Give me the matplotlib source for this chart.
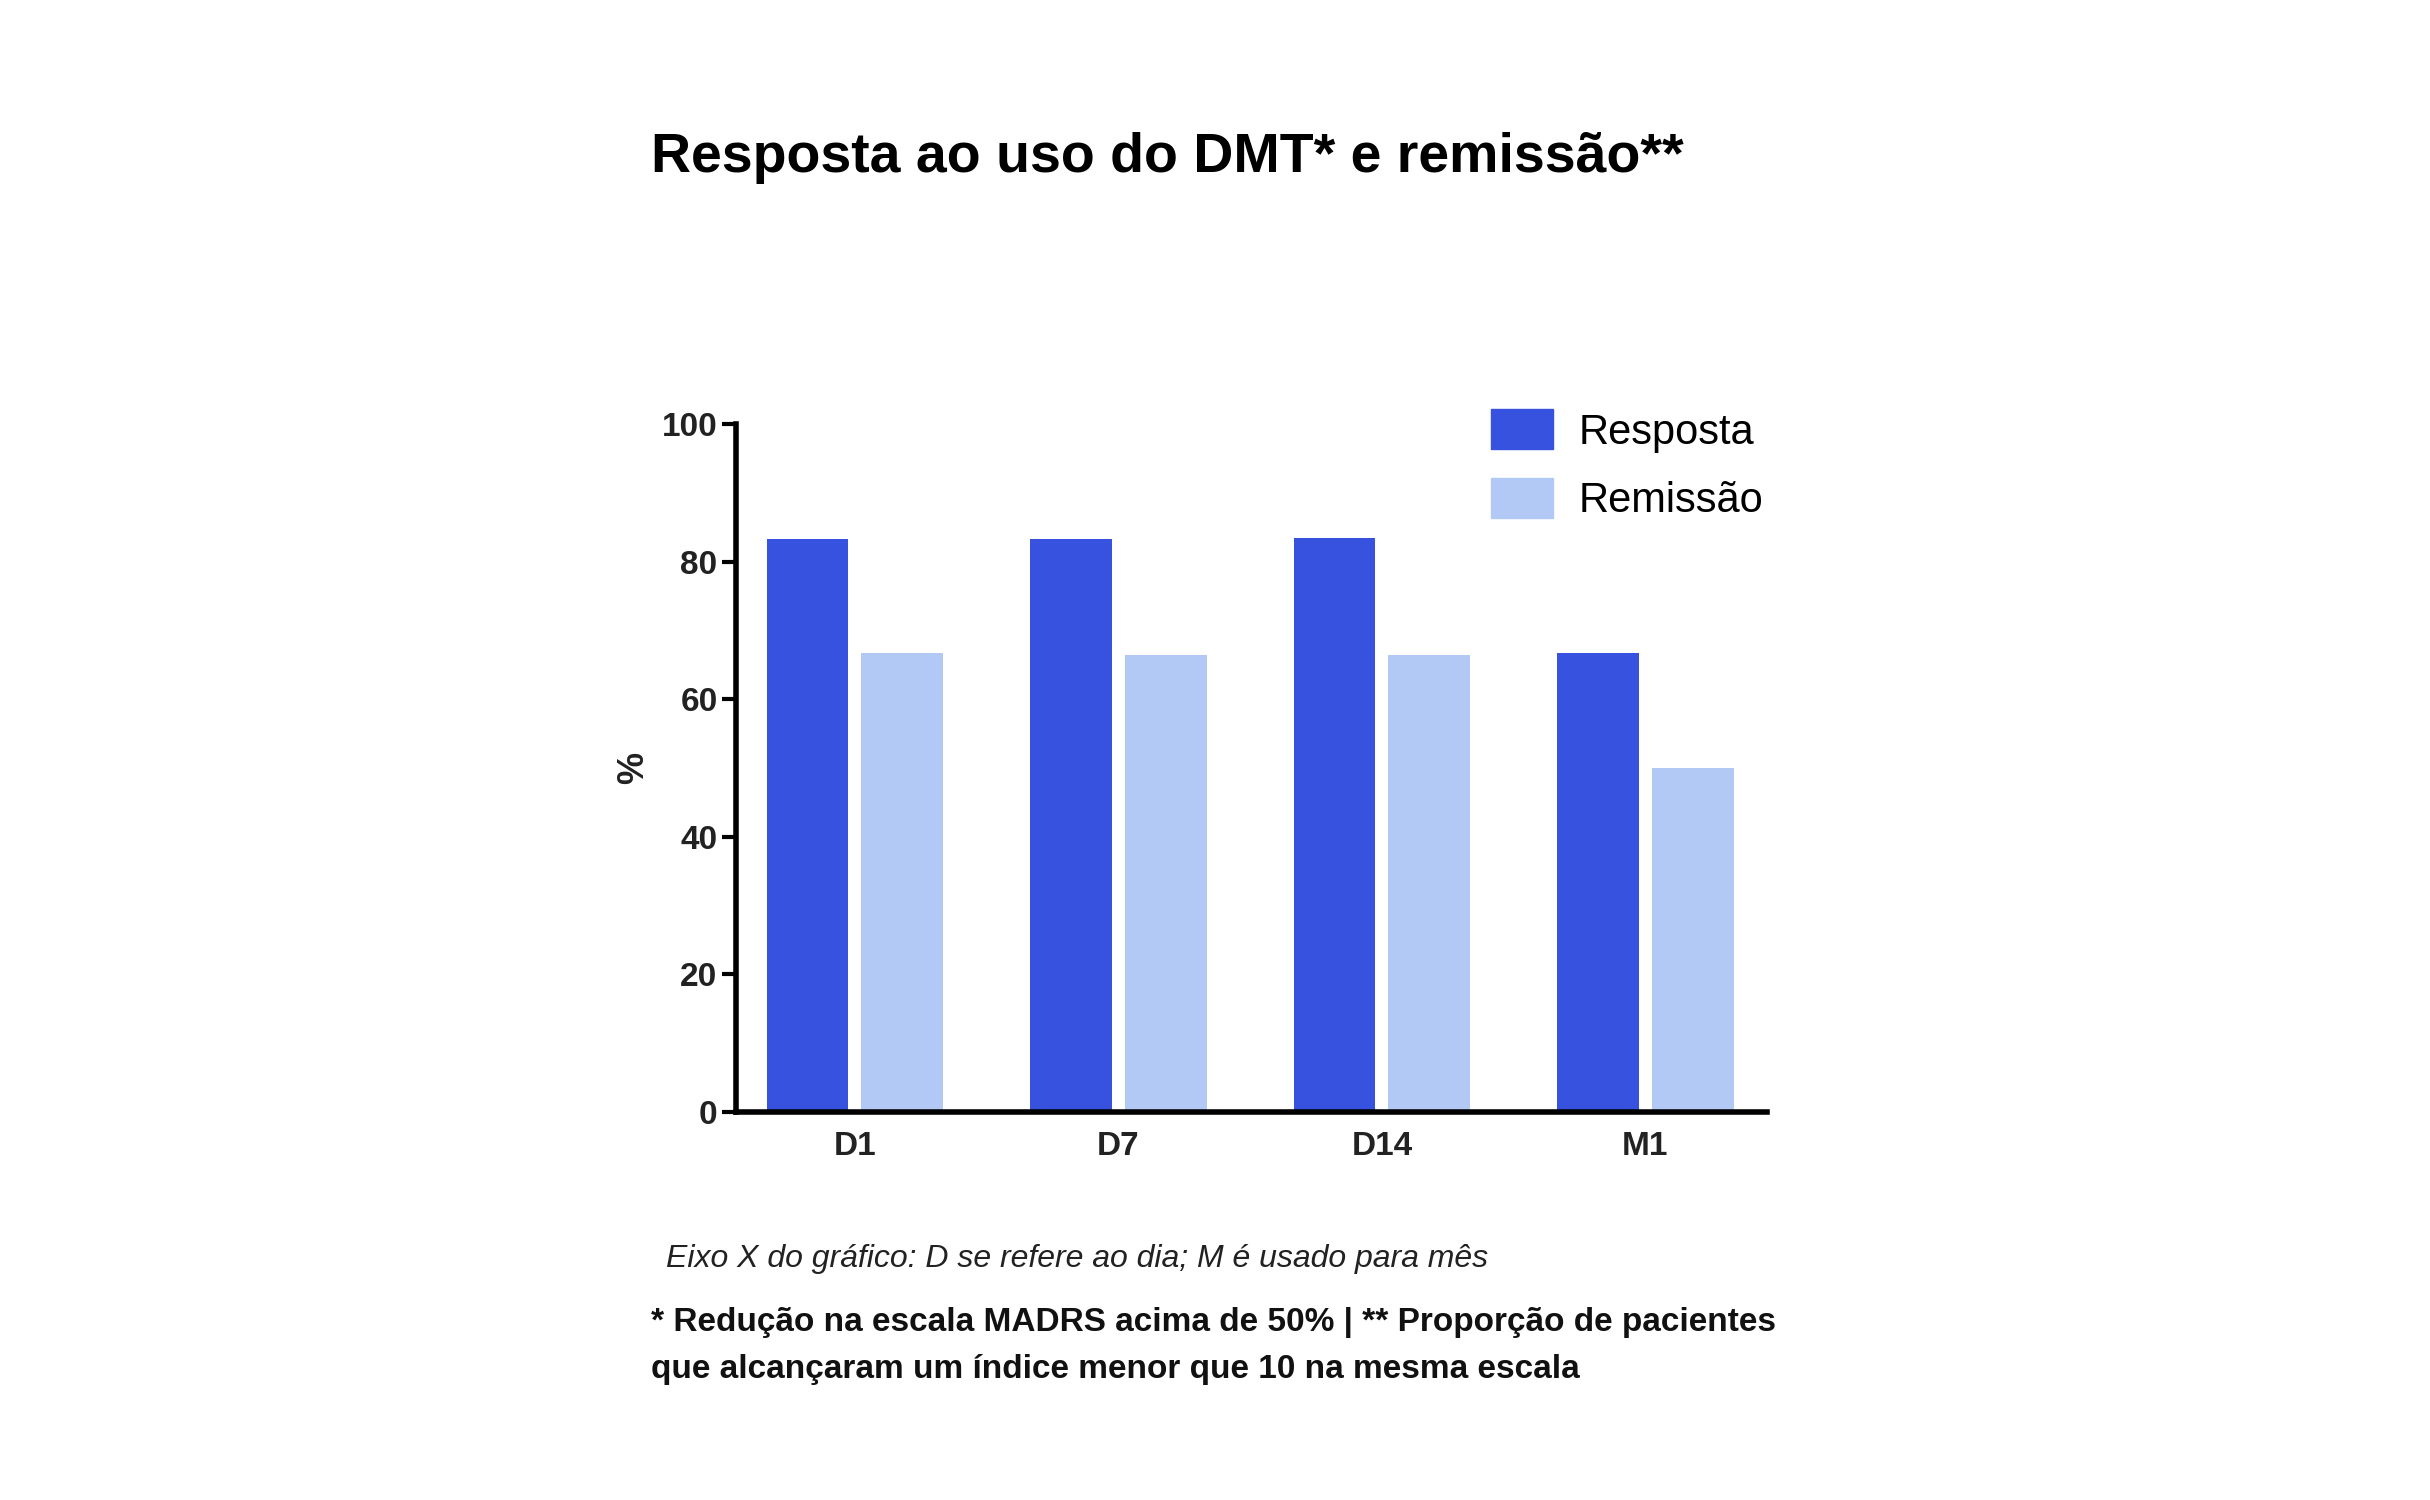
import matplotlib
matplotlib.use("Agg")
import matplotlib.pyplot as plt
import numpy as np
from matplotlib.patches import Patch

plt.rcParams['font.family'] = ['Liberation Sans', 'DejaVu Sans']

categories = ["D1", "D7", "D14", "M1"]
resposta = [83.3, 83.3, 83.5, 66.7]
remissao = [66.7, 66.5, 66.5, 50.0]
yticks = [0, 20, 40, 60, 80, 100]

c_dark = "#3652DE"
c_light = "#B3C9F5"

fig = plt.figure(figsize=(24.3, 15), dpi=100)
ax = fig.add_axes([0.303, 0.259, 0.424, 0.458])
x = np.arange(len(categories))
w = 0.31
ax.bar(x - 0.18, resposta, w, color=c_dark)
ax.bar(x + 0.18, remissao, w, color=c_light)
ax.set_xlim(-0.45, 3.46)
ax.set_ylim(0, 100)
ax.set_yticks(yticks)
ax.set_xticks(x)
ax.set_xticklabels(categories, fontsize=24, fontweight='bold', color='#222222')
ax.tick_params(axis='y', labelsize=24, width=3, length=10, direction='out')
ax.tick_params(axis='x', length=0, pad=14)
for lab in ax.get_yticklabels():
    lab.set_fontweight('bold'); lab.set_color('#222222')
for s in ['top', 'right']:
    ax.spines[s].set_visible(False)
for s in ['left', 'bottom']:
    ax.spines[s].set_linewidth(4)
ax.set_ylabel('%', fontsize=26, fontweight='bold', labelpad=8, color='#222222')

handles = [Patch(color=c_dark, label='Resposta'), Patch(color=c_light, label='Remissão')]
fig.legend(handles=handles, loc='upper left', bbox_to_anchor=(0.598, 0.752), frameon=False,
           fontsize=30, handlelength=1.5, handleheight=1.1, labelspacing=0.6, handletextpad=0.6)

fig.text(0.268, 0.895, 'Resposta ao uso do DMT* e remissão**', fontsize=40, fontweight='bold', va='center')
fig.text(0.274, 0.161, 'Eixo X do gráfico: D se refere ao dia; M é usado para mês', fontsize=23,
         style='italic', va='center', color='#222222')
fig.text(0.268, 0.118, '* Redução na escala MADRS acima de 50% | ** Proporção de pacientes', fontsize=24,
         fontweight='bold', va='center', color='#111111')
fig.text(0.268, 0.087, 'que alcançaram um índice menor que 10 na mesma escala', fontsize=24,
         fontweight='bold', va='center', color='#111111')

fig.savefig('out.png', dpi=100)
